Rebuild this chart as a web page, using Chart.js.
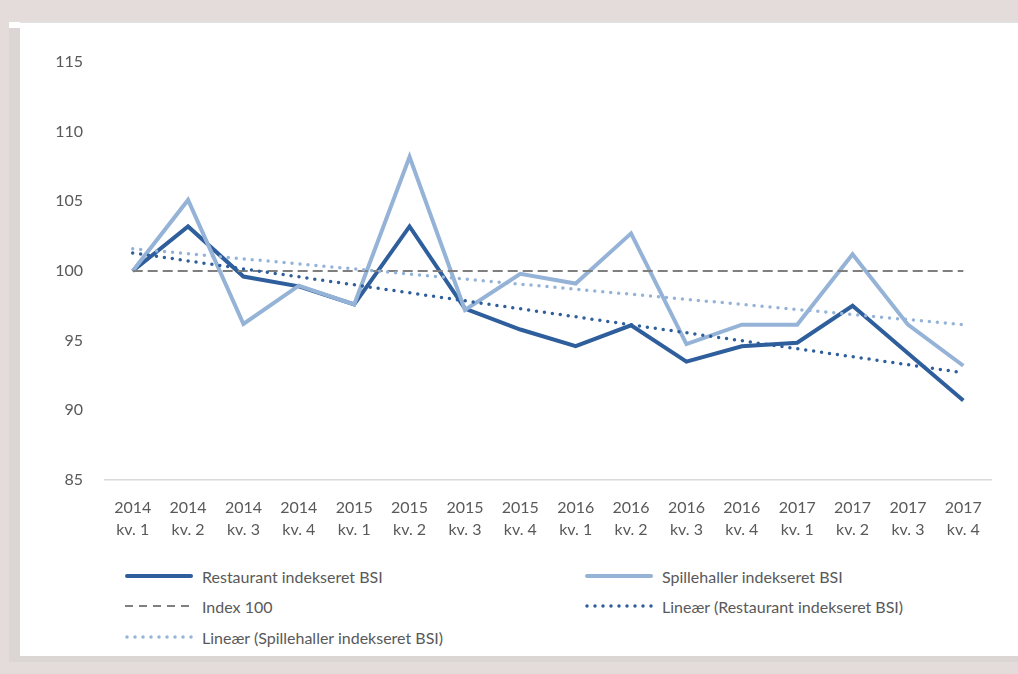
<!DOCTYPE html>
<html>
<head>
<meta charset="utf-8">
<script src="https://cdn.jsdelivr.net/npm/chart.js@4/dist/chart.umd.min.js"></script>
<style>
    html, body { margin: 0; background: #fff; overflow: hidden; font-family: Lato, "Open Sans", sans-serif; }
    .cadre { position: absolute; background: #e3dcdb; }
    #haut { left: 0; top: 0; width: 1100px; height: 22px; }
    #gauche { left: 0; top: 0; width: 9px; height: 700px; }
    #ombre { left: 9px; top: 28px; width: 11px; height: 634px; background: #dbd6d4; }
    #bas { left: 0; top: 656px; width: 1100px; height: 40px; }
    #ombre-bas { left: 9px; top: 656px; width: 1100px; height: 6px; background: #dbd6d4; }
    #panel { position: absolute; left: 20px; top: 22px; width: 1080px; height: 634px; background: #fff; border-top: 1px solid #dfe3e6; box-sizing: border-box; }
    #chart-wrap { position: absolute; left: 0; top: 0; width: 998px; height: 530px; }
    #legende { position: absolute; left: 0; top: 530px; width: 998px; }
    .item { position: absolute; height: 20px; display: flex; align-items: center; color: #595959; font-size: 16px; white-space: nowrap; }
    .item svg { margin-right: 7px; }
</style>
</head>
<body>
<div class="cadre" id="haut"></div>
<div class="cadre" id="gauche"></div>
<div class="cadre" id="bas"></div>
<div class="cadre" id="ombre"></div>
<div class="cadre" id="ombre-bas"></div>
<div id="panel">
    <div id="chart-wrap"><canvas id="myChart" width="998" height="530"></canvas></div>
    <div id="legende"></div>
</div>
<script>
// Données
const trimestres = [
    ['2014', 'kv. 1'], ['2014', 'kv. 2'], ['2014', 'kv. 3'], ['2014', 'kv. 4'],
    ['2015', 'kv. 1'], ['2015', 'kv. 2'], ['2015', 'kv. 3'], ['2015', 'kv. 4'],
    ['2016', 'kv. 1'], ['2016', 'kv. 2'], ['2016', 'kv. 3'], ['2016', 'kv. 4'],
    ['2017', 'kv. 1'], ['2017', 'kv. 2'], ['2017', 'kv. 3'], ['2017', 'kv. 4']
];
const restaurant = [100, 103.2, 99.6, 98.9, 97.6, 103.2, 97.3, 95.8, 94.6, 96.1, 93.5, 94.6, 94.85, 97.5, 94.1, 90.7];
const spillehaller = [100, 105.1, 96.2, 98.95, 97.6, 108.2, 97.2, 99.8, 99.1, 102.7, 94.75, 96.15, 96.15, 101.2, 96.15, 93.2];
const index100 = [100, 100, 100, 100, 100, 100, 100, 100, 100, 100, 100, 100, 100, 100, 100, 100];
const tendanceRestaurant = [101.3, null, null, null, null, null, null, null, null, null, null, null, null, null, null, 92.7];
const tendanceSpillehaller = [101.6, null, null, null, null, null, null, null, null, null, null, null, null, null, null, 96.15];
const libelles = ['Restaurant indekseret BSI', 'Spillehaller indekseret BSI', 'Index 100',
    'Lineær (Restaurant indekseret BSI)', 'Lineær (Spillehaller indekseret BSI)'];
const yTicks = [85, 90, 95, 100, 105, 110, 115];

const bleuFonce = '#2f5e9c';
const bleuClair = '#95b3d7';
const gris = '#7f7f7f';
const texte = '#595959';

const styles = [
    { color: bleuFonce, width: 4, dash: [], cap: 'butt' },
    { color: bleuClair, width: 4, dash: [], cap: 'butt' },
    { color: gris, width: 2, dash: [10, 5], cap: 'butt' },
    { color: bleuFonce, width: 3.5, dash: [0, 8], cap: 'round' },
    { color: bleuClair, width: 3.5, dash: [0, 8], cap: 'round' }
];
const series = [restaurant, spillehaller, index100, tendanceRestaurant, tendanceSpillehaller];

const datasets = series.map((data, i) => ({
    label: libelles[i],
    data: data,
    borderColor: styles[i].color,
    borderWidth: styles[i].width,
    borderDash: styles[i].dash,
    borderCapStyle: styles[i].cap,
    borderJoinStyle: 'miter',
    pointRadius: 0,
    spanGaps: true,
    tension: 0,
    fill: false,
    order: 5 - i
}));

const ctx = document.getElementById('myChart').getContext('2d');
new Chart(ctx, {
    type: 'line',
    data: { labels: trimestres, datasets: datasets },
    options: {
        responsive: false,
        animation: false,
        layout: { padding: { top: 39, right: 27, left: 0, bottom: 0 } },
        plugins: { legend: { display: false }, tooltip: { enabled: false } },
        scales: {
            x: {
                offset: true,
                grid: { display: false },
                border: { display: true, color: '#d9d9d9', width: 1.5 },
                ticks: {
                    color: texte,
                    font: { family: 'Lato', size: 16, lineHeight: 1.375 },
                    maxRotation: 0,
                    autoSkip: false,
                    padding: 9
                },
                afterFit: (scale) => { scale.height = 73; }
            },
            y: {
                min: 85,
                max: 115,
                grid: { display: false },
                border: { display: false },
                afterBuildTicks: (scale) => { scale.ticks = yTicks.map(v => ({ value: v })); },
                ticks: {
                    color: texte,
                    font: { family: 'Lato', size: 16 },
                    padding: 14
                },
                afterFit: (scale) => { scale.width = 85; }
            }
        }
    }
});

// Légende en deux colonnes
const positions = [
    { x: 105, y: 23 }, { x: 565, y: 23 },
    { x: 105, y: 53 }, { x: 565, y: 53 },
    { x: 105, y: 84 }
];
const legende = document.getElementById('legende');
libelles.forEach((lib, i) => {
    const s = styles[i];
    const div = document.createElement('div');
    div.className = 'item';
    div.style.left = positions[i].x + 'px';
    div.style.top = (positions[i].y - 10) + 'px';
    let trait;
    if (s.cap === 'round') {
        trait = `<line x1="2" y1="5" x2="68" y2="5" stroke="${s.color}" stroke-width="${s.width}" stroke-linecap="round" stroke-dasharray="0 8"/>`;
    } else if (s.dash.length) {
        trait = `<line x1="0" y1="5" x2="66" y2="5" stroke="${s.color}" stroke-width="${s.width}" stroke-linecap="butt" stroke-dasharray="8 6"/>`;
    } else {
        trait = `<line x1="2" y1="5" x2="66" y2="5" stroke="${s.color}" stroke-width="${s.width}" stroke-linecap="round"/>`;
    }
    div.innerHTML = `<svg width="70" height="10">${trait}</svg><span>${lib}</span>`;
    legende.appendChild(div);
});
</script>
</body>
</html>
